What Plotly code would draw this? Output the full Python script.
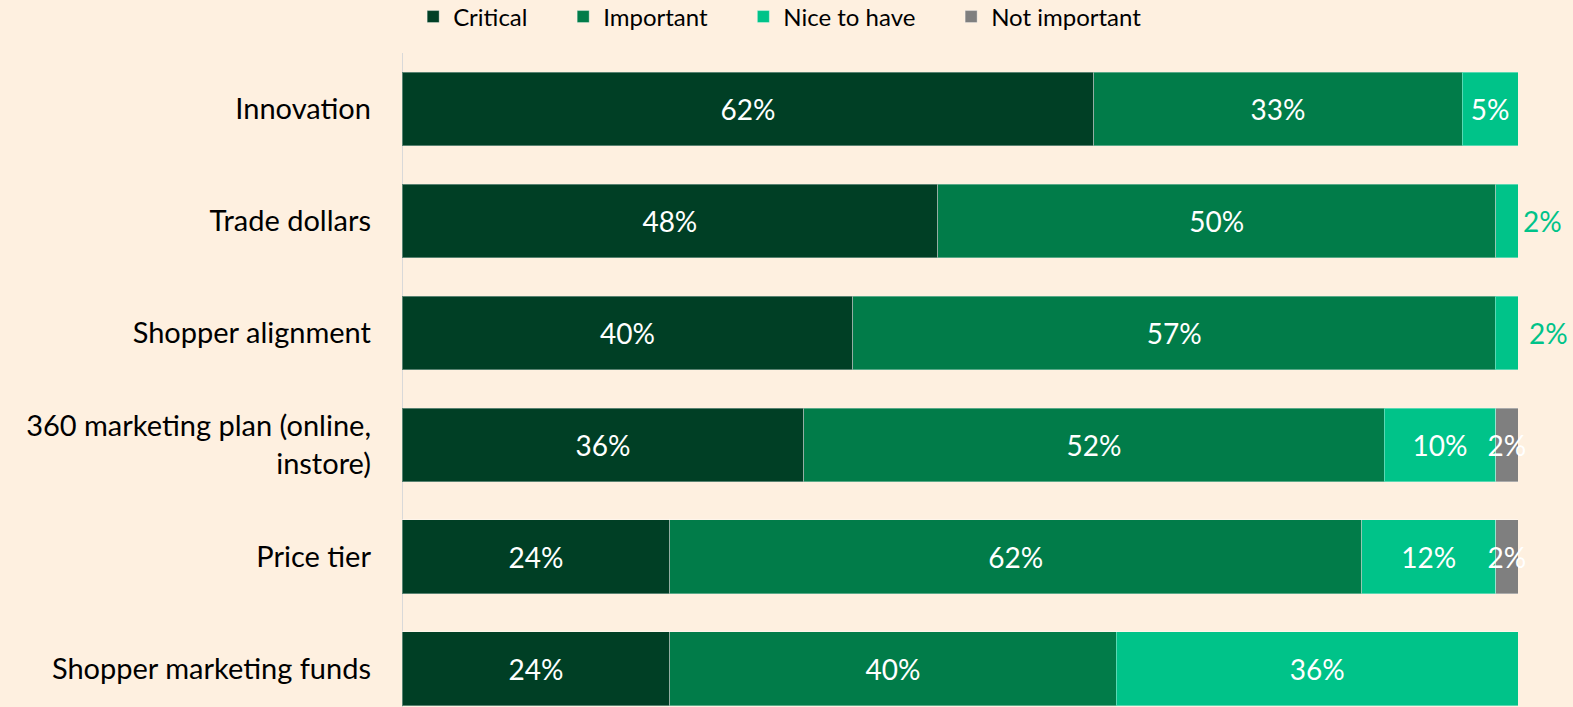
import plotly.graph_objects as go

# Survey categories (top to bottom)
categories = [
    "Innovation",
    "Trade dollars",
    "Shopper alignment",
    "360 marketing plan (online,<br>instore)",
    "Price tier",
    "Shopper marketing funds",
]

# Share of respondents per importance level (%)
critical = [62, 48, 40, 36, 24, 24]
important = [33, 50, 57, 52, 62, 40]
nice_to_have = [5, 2, 2, 10, 12, 36]
not_important = [None, None, None, 2, 2, None]

series_names = ["Critical", "Important", "Nice to have", "Not important"]
series_values = [critical, important, nice_to_have, not_important]
series_colors = ["#003F25", "#017C49", "#00C389", "#7F7F7F"]

# Small segments whose label sits just past the end of the bar
outside_labels = {"Trade dollars": 2, "Shopper alignment": 2}

BG = "#FEF0E0"
FONT = "Lato"
LEGEND_PAD = "\u00a0" * 5  # extra breathing room between legend entries

fig = go.Figure()
for name, vals, color in zip(series_names, series_values, series_colors):
    texts = []
    for cat, v in zip(categories, vals):
        if v is None or (name == "Nice to have" and cat in outside_labels):
            texts.append("")
        else:
            texts.append(f"{v}%")
    fig.add_trace(go.Bar(
        y=categories,
        x=vals,
        name=name + LEGEND_PAD,
        orientation="h",
        marker=dict(color=color, line=dict(color="rgba(255,255,255,0.35)", width=1)),
        text=texts,
        textposition="inside",
        insidetextanchor="middle",
        textangle=0,
        constraintext="none",
        textfont=dict(family=FONT, size=28, color="white"),
        cliponaxis=False,
        hoverinfo="skip",
    ))

for i, (cat, v) in enumerate(outside_labels.items()):
    fig.add_annotation(
        x=100, y=cat, xref="x", yref="y",
        text=f"{v}%", showarrow=False,
        xanchor="left", xshift=3 + 6 * i,
        font=dict(family=FONT, size=28, color="#00C389"),
    )

fig.update_layout(
    width=1573, height=707,
    barmode="stack",
    barnorm="percent",
    bargap=0.34,
    paper_bgcolor=BG,
    plot_bgcolor=BG,
    margin=dict(l=402, r=55, t=53, b=0, autoexpand=False),
    font=dict(family=FONT, color="#000000"),
    showlegend=True,
    legend=dict(
        orientation="h",
        x=0.01, xanchor="left",
        y=0.976, yref="container", yanchor="middle",
        font=dict(family=FONT, size=24, color="#000000"),
        bgcolor="rgba(0,0,0,0)",
        itemclick=False, itemdoubleclick=False,
        traceorder="normal",
        itemwidth=30,
    ),
    xaxis=dict(
        range=[0, 100],
        visible=False,
        fixedrange=True,
    ),
    yaxis=dict(
        categoryorder="array",
        categoryarray=categories,
        range=[5.34, -0.5],
        showgrid=False,
        zeroline=False,
        showline=False,
        ticks="",
        ticklabelstandoff=30,
        tickfont=dict(family=FONT, size=29, color="#000000"),
        fixedrange=True,
    ),
    shapes=[dict(
        type="line", xref="x", yref="paper",
        x0=0, x1=0, y0=0, y1=1,
        line=dict(color="#D9D9D9", width=2),
        layer="below",
    )],
)

fig.write_html("out.html")
